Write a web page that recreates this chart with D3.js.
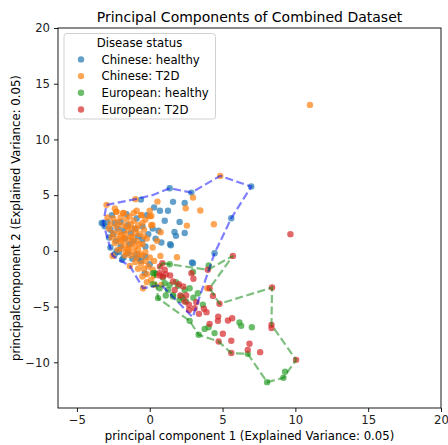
<!DOCTYPE html>
<html>
<head>
<meta charset="utf-8">
<script src="https://cdn.jsdelivr.net/npm/d3@7"></script>
<style>
  body { margin: 0; background: #fff; }
  svg { font-family: "DejaVu Sans", sans-serif; }
</style>
</head>
<body>
<svg width="448" height="445"></svg>
<script>
// series names in legend order
const groups = ['Chinese: healthy', 'Chinese: T2D', 'European: healthy', 'European: T2D'];
const colors = ['#1f77b4', '#ff7f0e', '#2ca02c', '#d62728'];

// [pc1, pc2] points
const chineseHealthy = [
    [-3.3, 2.5], [-3.1, 2.2], [-2.9, 2.6], [-2.6, 3.2], [-2.4, 2.5], [-2.7, 1.9], [-2.5, 1.5],
    [-2.2, 2.0], [-2.0, 2.6], [-1.8, 1.8], [-1.5, 2.3], [-1.3, 1.6], [-1.0, 2.0], [-0.9, 2.9],
    [-0.5, 2.2], [-0.6, 4.6], [-2.8, 1.2], [-2.3, 0.9], [-2.0, 0.4], [-1.7, 1.1], [-1.4, 0.6],
    [-1.1, 0.9], [-0.8, 1.3], [-0.5, 1.0], [-0.3, 0.4], [-0.1, 1.5], [0.2, 2.0], [0.4, 1.1],
    [-2.1, -0.1], [-1.8, -0.6], [-1.5, -0.2], [-1.2, -0.7], [-0.9, -0.3], [-0.6, -0.9],
    [-0.3, -0.5], [0.0, -1.2], [-2.4, -0.3], [-2.28, -0.06], [-1.9, -0.8], [-0.8, -0.66],
    [-0.34, -2.0], [0.7, 3.6], [1.25, 3.6], [1.6, 4.4], [2.4, 4.3], [1.03, 2.7], [2.05, 2.6],
    [1.7, 1.7], [1.8, 1.35], [2.4, 1.6], [0.8, 0.75], [1.4, 0.6], [2.9, -1.05], [2.97, -1.1],
    [1.45, 0.5], [5.6, 2.93], [4.45, -0.21], [6.97, 5.77], [2.86, 5.23], [1.37, 5.62],
    [0.6, 1.8], [-0.2, 3.2], [0.3, 3.9], [-3.2, 2.48], [-2.7, 0.3], [-1.6, 3.3]
];
const chineseT2D = [
    [-2.9, 3.0], [-2.7, 2.4], [-2.5, 2.9], [-2.3, 3.5], [-2.3, 2.2], [-2.1, 1.7], [-2.0, 3.0],
    [-1.9, 2.3], [-1.8, 3.4], [-1.7, 1.5], [-1.6, 2.8], [-1.5, 1.9], [-1.4, 3.1], [-1.3, 2.4],
    [-1.2, 1.2], [-1.1, 2.7], [-1.0, 1.6], [-0.9, 0.9], [-0.8, 2.3], [-0.7, 1.5], [-0.6, 3.2],
    [-0.5, 0.6], [-0.4, 1.9], [-0.3, 2.8], [-0.2, 1.1], [0.0, 3.1], [0.1, 2.3], [0.2, 0.3],
    [-2.6, 1.2], [-2.4, 0.7], [-2.2, 1.1], [-2.0, 0.8], [-1.9, 0.2], [-1.8, 1.2], [-1.7, 0.5],
    [-1.6, -0.1], [-1.5, 1.0], [-1.4, 0.3], [-1.3, -0.4], [-1.2, 0.7], [-1.1, -0.1], [-1.0, 0.4],
    [-0.9, -0.6], [-0.8, 0.1], [-0.7, -0.3], [-0.6, -1.1], [-0.5, -0.4], [-0.4, -1.6],
    [-0.3, -0.9], [-0.2, -2.1], [-0.1, -1.4], [0.0, -0.6], [0.1, -2.6], [0.2, -1.7], [0.3, -0.9],
    [-2.8, 2.0], [-2.5, 1.6], [-2.2, 2.6], [-1.9, 1.0], [-1.6, 2.2], [-1.3, 1.3], [-1.1, 3.4],
    [-0.9, 2.0], [-0.7, 0.6], [-0.5, 2.5], [-0.3, -0.1], [-2.2, 0.1], [-1.7, -0.4], [-1.0, -1.0],
    [-0.8, -1.6], [-0.5, -2.3], [-0.2, -2.8], [0.3, -2.2], [-2.97, 4.13], [-0.98, 4.64],
    [-2.55, -0.45], [0.53, 4.42], [2.97, 4.78], [2.47, 3.83], [3.47, 3.62], [2.55, 2.27],
    [4.4, 2.39], [0.11, 3.14], [0.18, 2.33], [0.75, 1.67], [1.87, -0.57], [0.73, -0.45],
    [0.34, -3.05], [-0.46, -3.35], [4.84, 6.73], [3.95, -3.35], [11.0, 13.1], [0.5, 0.9],
    [-1.37, -1.35], [0.8, -3.05], [-2.28, 3.52], [-1.83, 3.38], [-0.57, 3.23], [0.0, 3.6],
    [-1.5, 0.1], [-2.0, 1.4], [-1.2, 2.0], [-0.4, 1.3], [-0.9, 3.6], [-2.4, 3.8]
];
const europeanHealthy = [
    [0.23, -2.0], [0.57, -4.24], [1.03, -2.9], [1.25, -3.5], [1.6, -4.1], [2.05, -4.4],
    [2.4, -3.5], [2.74, -3.35], [2.97, -1.9], [3.3, -3.8], [3.65, -4.84], [2.74, -6.28],
    [3.36, -7.53], [3.77, -7.0], [4.04, -6.85], [4.45, -7.38], [6.16, -6.43], [6.28, -6.73],
    [7.01, -6.85], [6.73, -9.24], [8.06, -11.78], [9.18, -11.39], [9.29, -10.85], [1.94, -3.14],
    [2.28, -4.24], [0.68, -3.35], [0.34, -2.0], [1.37, -3.05], [1.6, -3.95], [2.16, -4.1],
    [2.5, -4.55], [1.37, -1.2], [0.9, -2.4], [3.0, -4.2], [4.05, -1.3], [0.2, -3.0],
    [1.1, -4.0], [1.8, -2.8]
];
const europeanT2D = [
    [0.87, -1.1], [0.68, -2.0], [0.9, -2.3], [2.86, -2.0], [3.99, -1.7], [5.71, -0.45],
    [4.11, -3.35], [4.34, -4.04], [4.79, -4.75], [8.4, -3.29], [8.36, -6.64], [8.36, -6.93],
    [10.05, -9.78], [4.7, -5.9], [4.68, -6.28], [4.11, -6.55], [5.37, -6.25], [5.66, -6.04],
    [5.02, -7.44], [4.73, -8.13], [5.6, -9.17], [5.6, -8.07], [6.73, -8.88], [6.85, -8.34],
    [7.58, -9.09], [2.4, -4.55], [2.69, -4.84], [3.08, -5.14], [3.38, -5.65], [3.72, -5.2],
    [2.1, -4.0], [2.5, -4.0], [1.71, -3.5], [1.03, -1.7], [0.7, -1.4], [1.6, -2.75],
    [9.66, 1.5], [0.68, -2.2], [1.1, -2.1], [2.3, -3.2], [2.0, -3.0], [2.7, -5.3], [3.2, -4.6],
    [3.9, -5.5], [3.0, -2.5], [1.4, -2.2]
];
const seriesData = [chineseHealthy, chineseT2D, europeanHealthy, europeanT2D];

// hull outlines (Chinese blue, European green)
const chineseHull = [
    [-2.97, 4.13], [-0.98, 4.64], [0.23, 5.02], [1.37, 5.62], [2.86, 5.23], [4.84, 6.73],
    [6.97, 5.77], [5.6, 2.93], [4.45, -0.21], [2.95, -5.95], [0.8, -3.05], [-0.46, -3.35],
    [-1.37, -1.35], [-2.55, -0.45], [-3.2, 2.48]
];
const europeanHull = [
    [0.87, -1.1], [3.99, -1.7], [5.71, -0.45], [4.11, -3.35], [4.79, -4.75], [8.4, -3.29],
    [8.36, -6.64], [10.05, -9.78], [9.18, -11.39], [8.06, -11.78], [6.73, -9.24], [5.6, -9.17],
    [4.73, -8.13], [3.36, -7.53], [2.74, -6.28], [0.57, -4.24], [0.34, -2.0]
];

const xTicks = [-5, 0, 5, 10, 15, 20];
const yTicks = [-10, -5, 0, 5, 10, 15, 20];

const svg = d3.select('svg');
const plotL = 58, plotR = 441, plotT = 28, plotB = 408;
const fs = 11.7;

const x = d3.scaleLinear().domain([-6.3, 20]).range([plotL, plotR]);
const y = d3.scaleLinear().domain([-14.1, 20]).range([plotB, plotT]);

// points
seriesData.forEach((pts, i) => {
    svg.append('g')
        .selectAll('circle')
        .data(pts)
        .enter()
        .append('circle')
        .attr('cx', d => x(d[0]))
        .attr('cy', d => y(d[1]))
        .attr('r', 3.2)
        .attr('fill', colors[i])
        .attr('fill-opacity', 0.7);
});

// dashed hulls on top
const line = d3.line().x(d => x(d[0])).y(d => y(d[1])).curve(d3.curveLinearClosed);
[[chineseHull, '#0000ff'], [europeanHull, '#008000']].forEach(([hull, c]) => {
    svg.append('path')
        .attr('d', line(hull))
        .attr('fill', 'none')
        .attr('stroke', c)
        .attr('stroke-opacity', 0.5)
        .attr('stroke-width', 2.2)
        .attr('stroke-dasharray', '8,3.5');
});

// axes
const fmt = d => d < 0 ? '\u2212' + Math.abs(d) : d;
const xAxis = svg.append('g')
    .attr('transform', `translate(0,${plotB})`)
    .call(d3.axisBottom(x).tickValues(xTicks).tickSize(4).tickPadding(4).tickFormat(fmt));
const yAxis = svg.append('g')
    .attr('transform', `translate(${plotL},0)`)
    .call(d3.axisLeft(y).tickValues(yTicks).tickSize(4).tickPadding(4).tickFormat(fmt));
[xAxis, yAxis].forEach(a => {
    a.select('.domain').remove();
    a.selectAll('line').attr('stroke', '#000').attr('stroke-width', 0.9);
    a.selectAll('text').attr('font-size', fs).attr('fill', '#222')
        .attr('font-family', '"DejaVu Sans", sans-serif');
});

// frame
svg.append('rect')
    .attr('x', plotL).attr('y', plotT)
    .attr('width', plotR - plotL).attr('height', plotB - plotT)
    .attr('fill', 'none').attr('stroke', '#000').attr('stroke-width', 0.9);

// title and labels
svg.append('text')
    .attr('x', (plotL + plotR) / 2).attr('y', 22)
    .attr('text-anchor', 'middle').attr('font-size', 14)
    .text('Principal Components of Combined Dataset');
svg.append('text')
    .attr('x', (plotL + plotR) / 2).attr('y', 440)
    .attr('text-anchor', 'middle').attr('font-size', fs)
    .text('principal component 1 (Explained Variance: 0.05)');
svg.append('text')
    .attr('transform', `translate(20,${(plotT + plotB) / 2}) rotate(-90)`)
    .attr('text-anchor', 'middle').attr('font-size', fs)
    .text('principalcomponent 2 (Explained Variance: 0.05)');

// legend
const lg = svg.append('g');
lg.append('rect')
    .attr('x', 64).attr('y', 33.5).attr('width', 151.5).attr('height', 85.5)
    .attr('rx', 3)
    .attr('fill', '#fff').attr('fill-opacity', 0.8)
    .attr('stroke', '#cccccc').attr('stroke-width', 0.9);
lg.append('text')
    .attr('x', 139.5).attr('y', 46.5)
    .attr('text-anchor', 'middle').attr('font-size', fs)
    .text('Disease status');
const items = lg.selectAll('g.item')
    .data(groups)
    .enter()
    .append('g')
    .attr('class', 'item')
    .attr('transform', (d, i) => `translate(0,${59.4 + i * 16.7})`);
items.append('circle')
    .attr('cx', 81).attr('cy', 0).attr('r', 3.2)
    .attr('fill', (d, i) => colors[i]).attr('fill-opacity', 0.7);
items.append('text')
    .attr('x', 101.5).attr('y', 4.2).attr('font-size', fs)
    .text(d => d);
</script>
</body>
</html>
